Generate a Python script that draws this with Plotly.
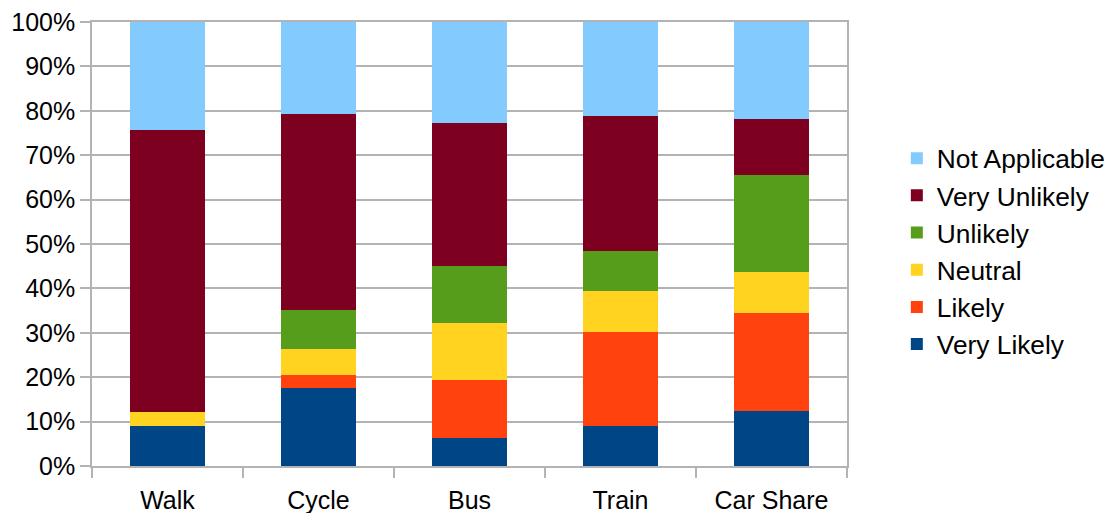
import plotly.graph_objects as go

categories = ["Walk", "Cycle", "Bus", "Train", "Car Share"]
very_likely = [9.1, 17.6, 6.4, 9.1, 12.4]
likely = [0.0, 2.9, 13.0, 21.1, 22.1]
neutral = [3.1, 5.9, 12.8, 9.2, 9.2]
unlikely = [0.0, 8.7, 12.9, 9.1, 21.8]
very_unlikely = [63.5, 44.2, 32.2, 30.3, 12.7]
not_applicable = [24.3, 20.7, 22.7, 21.2, 21.8]
y_ticks = [0, 10, 20, 30, 40, 50, 60, 70, 80, 90, 100]
y_tick_labels = ["0%", "10%", "20%", "30%", "40%", "50%", "60%", "70%", "80%", "90%", "100%"]

series = [
    ("Very Likely", very_likely, "#004586"),
    ("Likely", likely, "#ff420e"),
    ("Neutral", neutral, "#ffd320"),
    ("Unlikely", unlikely, "#579d1c"),
    ("Very Unlikely", very_unlikely, "#7e0021"),
    ("Not Applicable", not_applicable, "#83caff"),
]

fig = go.Figure()
for name, vals, color in series:
    fig.add_trace(go.Bar(x=categories, y=vals, name=name,
                         marker=dict(color=color, line=dict(width=0))))

fig.update_layout(
    barmode="stack",
    bargap=0.497,
    width=1113, height=513,
    margin=dict(l=92, r=266, t=22, b=47, autoexpand=False),
    paper_bgcolor="white", plot_bgcolor="white",
    font=dict(family="Liberation Sans, Arial, sans-serif", size=25, color="#000000"),
    legend=dict(traceorder="reversed", x=1.066, xanchor="left", y=0.483, yanchor="middle",
                font=dict(size=26.3), itemwidth=30, tracegroupgap=0,
                bgcolor="rgba(0,0,0,0)"),
    xaxis=dict(showline=True, linecolor="#b3b3b3", linewidth=1.5, mirror=True,
               ticks="outside", tickson="boundaries", ticklen=10, tickcolor="#b3b3b3",
               tickwidth=1.5, showgrid=False, tickfont=dict(size=25), automargin=False,
               ticklabelstandoff=11),
    yaxis=dict(range=[0, 100], tickmode="array", tickvals=y_ticks, ticktext=y_tick_labels,
               showline=True, linecolor="#b3b3b3", linewidth=1.5, mirror=True,
               ticks="outside", ticklen=10, tickcolor="#b3b3b3", tickwidth=1.5,
               showgrid=True, gridcolor="#b3b3b3", gridwidth=1.5,
               tickfont=dict(size=25), zeroline=False, automargin=False),
    showlegend=True,
)

fig.write_html("out.html", config={"displayModeBar": False},
               post_script="document.body.style.margin='0';")
